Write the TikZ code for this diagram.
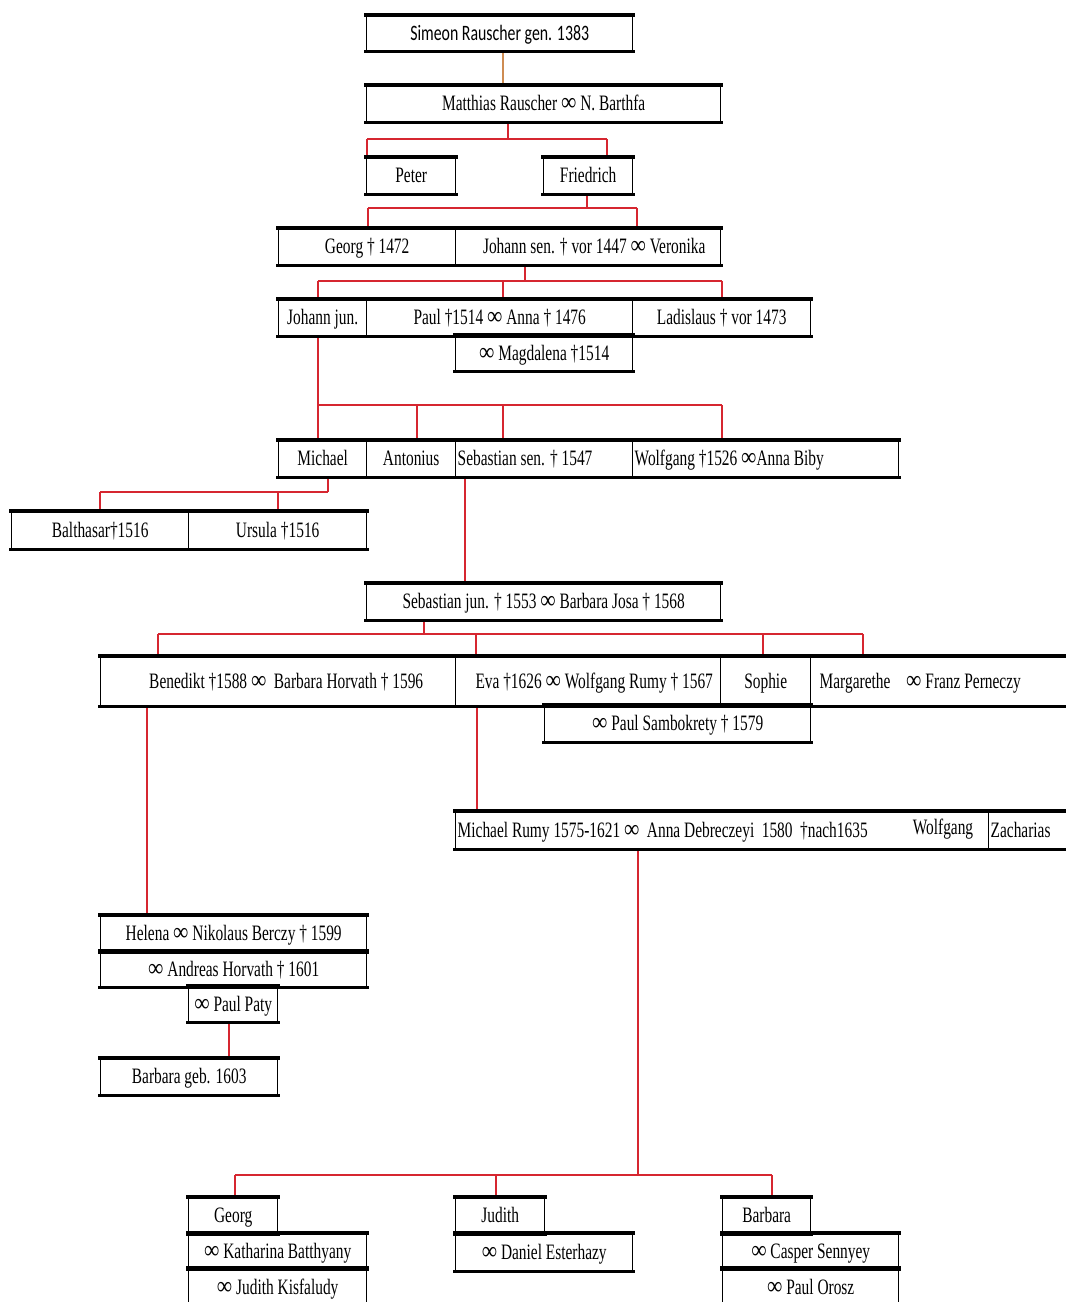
\documentclass[tikz,border=0pt]{standalone}
\usepackage{fontspec}
\newfontfamily\famfont{Liberation Serif}[FakeStretch=0.7]
\newfontfamily\simfont{Carlito}[FakeStretch=0.72]
\definecolor{linkred}{RGB}{214,38,48}
\definecolor{tieorange}{RGB}{206,140,82}
\newcommand\lefttext[2]{\hbox to #1{#2\hfil}}
\newcommand\oo{\scalebox{1.4}[1.15]{∞}}
\begin{document}
\begin{tikzpicture}[x=0.5pt,y=-0.5pt,line join=round,
  cell/.style={draw,line width=0.7pt,anchor=north west,inner sep=0pt,minimum height=18pt,
    text height=9pt,text depth=1.8pt,font=\famfont\fontsize{11}{13}\selectfont},
  lcell/.style={cell,inner xsep=1pt},
  plaintext/.style={font=\famfont\fontsize{11}{13}\selectfont,inner sep=0pt},
  link/.style={draw=linkred,line width=1.1pt},
  tie/.style={draw=tieorange,line width=0.8pt},
  rim/.style={line width=1.7pt,line cap=rect}]
\useasboundingbox (0,0) rectangle (1066,1302);
\clip (0,0) rectangle (1066,1302);
% generations, top down
\node[cell,font=\simfont\fontsize{11}{13}\selectfont,minimum width=133pt,minimum height=17.5pt] (simeon) at (366,15) {Simeon Rauscher gen. 1383};
\node[cell,minimum width=177pt] (matthias) at (366,85) {Matthias Rauscher \oo{} N. Barthfa};
\node[cell,minimum width=44.5pt] (peter) at (366,157) {Peter};
\node[cell,minimum width=44.5pt] (friedrich) at (543,157) {Friedrich};
\node[cell,minimum width=88.5pt] (georg) at (278,228) {Georg † 1472};
\node[cell,minimum width=132.5pt] (johsen) at (455,228) {\hspace{6pt}Johann sen. † vor 1447 \oo{} Veronika};
\node[cell,minimum width=44pt] (johjun) at (278,299) {Johann jun.};
\node[cell,minimum width=133pt] (paul) at (366,299) {Paul †1514 \oo{} Anna † 1476};
\node[cell,minimum width=89pt] (ladislaus) at (632,299) {Ladislaus † vor 1473};
\node[cell,minimum width=88.5pt,minimum height=17.5pt] (magdalena) at (455,335) {\oo{} Magdalena †1514};
\node[cell,minimum width=44pt] (michael) at (278,440) {Michael};
\node[cell,minimum width=44.5pt] (antonius) at (366,440) {Antonius};
\node[lcell] (sebsen) at (455,440) {\lefttext{86.5pt}{Sebastian sen. † 1547}};
\node[lcell] (wolfgang) at (632,440) {\lefttext{131pt}{Wolfgang †1526 \oo Anna Biby}};
\node[cell,minimum width=88.5pt,minimum height=18.5pt] (balthasar) at (11,511) {Balthasar†1516};
\node[cell,minimum width=89pt,minimum height=18.5pt] (ursula) at (188,511) {Ursula †1516};
\node[cell,minimum width=177pt] (sebjun) at (366,583) {Sebastian jun. † 1553 \oo{} Barbara Josa † 1568};
\node[cell,minimum width=177.5pt,minimum height=24.5pt] (benedikt) at (100,656) {\hspace{8pt}Benedikt †1588 \oo{} \,Barbara Horvath † 1596};
\node[cell,minimum width=132.5pt,minimum height=24.5pt] (eva) at (455,656) {\hspace{6pt}Eva †1626 \oo{} Wolfgang Rumy † 1567};
\node[cell,minimum width=45pt,minimum height=24.5pt] (sophie) at (720,656) {Sophie};
\node[lcell,inner xsep=4.5pt,minimum height=24.5pt] (margarethe) at (810,656) {\lefttext{126pt}{Margarethe\hspace{6pt} \oo{} Franz Perneczy}};
\node[cell,minimum width=133pt] (sambokrety) at (544,705) {\oo{} Paul Sambokrety † 1579};
\node[lcell,minimum height=18.5pt] (michrumy) at (455,811) {\lefttext{264.5pt}{Michael Rumy 1575-1621 \oo{} \,Anna Debreczeyi \,1580 \,†nach1635}};
\node[plaintext] (wolfgangII) at (943,829) {Wolfgang};
\node[lcell,minimum height=18.5pt] (zacharias) at (988,811) {\lefttext{44pt}{Zacharias}};
\node[cell,minimum width=133pt] (helena) at (100,915) {Helena \oo{} Nikolaus Berczy † 1599};
\node[cell,minimum width=133pt,minimum height=17.5pt] (andreas) at (100,951) {\oo{} Andreas Horvath † 1601};
\node[cell,minimum width=44.5pt,minimum height=17.5pt] (paty) at (188,986) {\oo{} Paul Paty};
\node[cell,minimum width=88.5pt] (barbarageb) at (100,1058) {Barbara geb. 1603};
\node[cell,minimum width=44.5pt] (georgII) at (188,1197) {Georg};
\node[cell,minimum width=89pt,minimum height=17.5pt] (katharina) at (188,1233) {\oo{} Katharina Batthyany};
\node[cell,minimum width=89pt,minimum height=19pt] (kisfaludy) at (188,1268) {\oo{} Judith Kisfaludy};
\node[cell,minimum width=44.5pt] (judith) at (455,1197) {Judith};
\node[cell,minimum width=88.5pt,minimum height=18.5pt] (daniel) at (455,1233) {\oo{} Daniel Esterhazy};
\node[cell,minimum width=44pt] (barbaraII) at (722,1197) {Barbara};
\node[cell,minimum width=88pt,minimum height=17.5pt] (casper) at (722,1233) {\oo{} Casper Sennyey};
\node[cell,minimum width=88pt,minimum height=19pt] (orosz) at (722,1268) {\oo{} Paul Orosz};
% family buses
\path (508,139) coordinate (busA) (587,208) coordinate (busB) (525,281) coordinate (busC)
  (318,405) coordinate (busD) (328,492) coordinate (busE) (424,634) coordinate (busF)
  (638,1175) coordinate (busG);
\draw[tie] (simeon.south -| 503,0) -- (matthias.north -| 503,0);
\draw[link] (matthias.south -| busA) -- (busA) (busA -| 367,0) -- (busA -| 607,0);
\foreach \c/\x in {peter/367,friedrich/607} \draw[link] (busA -| \x,0) -- (\c.north -| \x,0);
\draw[link] (friedrich.south -| busB) -- (busB) (busB -| 368,0) -- (busB -| 637,0);
\foreach \c/\x in {georg/368,johsen/637} \draw[link] (busB -| \x,0) -- (\c.north -| \x,0);
\draw[link] (johsen.south -| busC) -- (busC) (busC -| 318,0) -- (busC -| 722,0);
\foreach \c/\x in {johjun/318,paul/503,ladislaus/722} \draw[link] (busC -| \x,0) -- (\c.north -| \x,0);
\draw[link] (johjun.south -| busD) -- (busD) (busD -| 318,0) -- (busD -| 722,0);
\foreach \c/\x in {michael/318,antonius/417,sebsen/503,wolfgang/722} \draw[link] (busD -| \x,0) -- (\c.north -| \x,0);
\draw[link] (michael.south -| busE) -- (busE) (busE -| 100,0) -- (busE -| 328,0);
\foreach \c/\x in {balthasar/100,ursula/278} \draw[link] (busE -| \x,0) -- (\c.north -| \x,0);
\draw[link] (sebsen.south -| 465,0) -- (sebjun.north -| 465,0);
\draw[link] (sebjun.south -| busF) -- (busF) (busF -| 158,0) -- (busF -| 863,0);
\foreach \c/\x in {benedikt/158,eva/476,sophie/763,margarethe/863} \draw[link] (busF -| \x,0) -- (\c.north -| \x,0);
\draw[link] (benedikt.south -| 147,0) -- (helena.north -| 147,0);
\draw[link] (eva.south -| 477,0) -- (michrumy.north -| 477,0);
\draw[link] (paty.south -| 229,0) -- (barbarageb.north -| 229,0);
\draw[link] (michrumy.south -| busG) -- (busG) (busG -| 235,0) -- (busG -| 772,0);
\foreach \c/\x in {georgII/235,judith/496,barbaraII/772} \draw[link] (busG -| \x,0) -- (\c.north -| \x,0);
% heavy top and bottom edges
\foreach \n in {simeon,matthias,peter,friedrich,georg,johsen,johjun,paul,ladislaus,magdalena,
  michael,antonius,sebsen,wolfgang,balthasar,ursula,sebjun,benedikt,eva,sophie,margarethe,
  sambokrety,michrumy,zacharias,helena,andreas,paty,barbarageb,georgII,katharina,kisfaludy,
  judith,daniel,barbaraII,casper,orosz}
  \draw[rim] (\n.north west) -- (\n.north east) (\n.south west) -- (\n.south east);
\end{tikzpicture}
\end{document}
